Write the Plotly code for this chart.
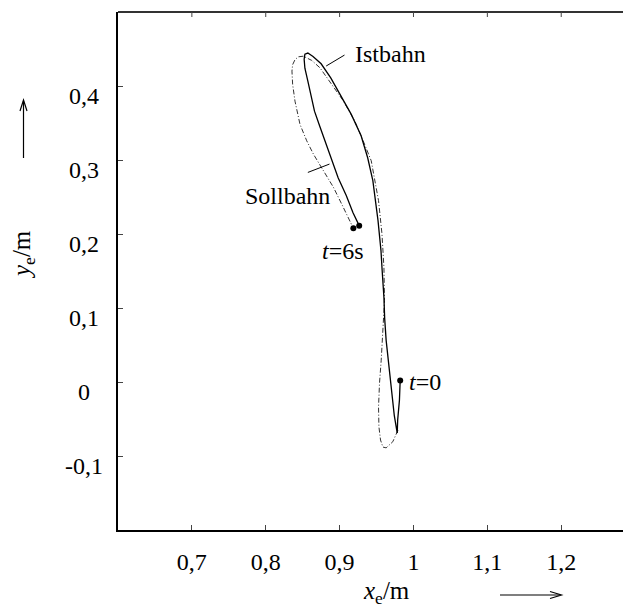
import plotly.graph_objects as go

# ---- data ----
ist_x = [0.982, 0.981, 0.9786, 0.978, 0.974, 0.9698, 0.966, 0.963, 0.961, 0.960, 0.9576, 0.956,
         0.952, 0.949, 0.945, 0.938, 0.929, 0.9156, 0.902, 0.888, 0.875, 0.864, 0.857, 0.853,
         0.852, 0.853, 0.857, 0.861, 0.866, 0.873, 0.880, 0.888, 0.898, 0.909, 0.918, 0.9265]
ist_y = [0.002, -0.0245, -0.0515, -0.069, -0.045, -0.007, 0.0294, 0.0563, 0.086, 0.1143, 0.1507, 0.1776,
         0.218, 0.245, 0.272, 0.303, 0.333, 0.362, 0.3865, 0.411, 0.430, 0.440, 0.4445, 0.443,
         0.436, 0.424, 0.4067, 0.3865, 0.366, 0.346, 0.326, 0.303, 0.276, 0.252, 0.229, 0.2113]

soll_x = [0.979, 0.972, 0.963, 0.9586, 0.9554, 0.9532, 0.9527, 0.954, 0.9563, 0.9586, 0.9608, 0.9600,
          0.9573, 0.9527, 0.9428, 0.9337, 0.9204, 0.905, 0.8959, 0.8824, 0.8733, 0.8622, 0.8508,
          0.844, 0.8396, 0.8364, 0.8355, 0.8364, 0.8396, 0.8464, 0.8555, 0.8645, 0.8781, 0.8917,
          0.905, 0.9186]
soll_y = [-0.065, -0.0807, -0.089, -0.0879, -0.0784, -0.0605, -0.0336, -0.0016, 0.0294, 0.0658, 0.1102, 0.1551,
          0.2005, 0.245, 0.299, 0.3214, 0.353, 0.380, 0.393, 0.4112, 0.4247, 0.4346, 0.4403,
          0.4394, 0.4356, 0.4288, 0.4202, 0.4023, 0.3795, 0.348, 0.3259, 0.308, 0.2854, 0.263,
          0.236, 0.2077]

x_ticks = [0.7, 0.8, 0.9, 1.0, 1.1, 1.2]
x_tick_labels = ["0,7", "0,8", "0,9", "1", "1,1", "1,2"]
y_ticks = [0.4, 0.3, 0.2, 0.1, 0.0, -0.1]
y_tick_labels = ["0,4", "0,3", "0,2", "0,1", "0", "-0,1"]

FONT = "Liberation Serif, Times New Roman, Times, DejaVu Serif, serif"
FS = 24

fig = go.Figure()
fig.add_trace(go.Scatter(x=soll_x, y=soll_y, mode="lines",
                         line=dict(color="#333333", width=1, dash="5px,2px,1px,2px"),
                         hoverinfo="skip"))
fig.add_trace(go.Scatter(x=ist_x, y=ist_y, mode="lines",
                         line=dict(color="black", width=1.3), hoverinfo="skip"))
# marker dots: start of Istbahn, ends of both
fig.add_trace(go.Scatter(x=[ist_x[0], ist_x[-1], soll_x[-1]],
                         y=[ist_y[0], ist_y[-1], soll_y[-1]],
                         mode="markers", marker=dict(color="black", size=6),
                         hoverinfo="skip"))

tf = dict(family=FONT, size=FS, color="black")
annotations = []
for v, t in zip(y_ticks, y_tick_labels):
    annotations.append(dict(x=0, xref="paper", y=v, yref="y", text=t, showarrow=False,
                            xanchor="center", yanchor="middle", xshift=-34, yshift=-10,
                            font=tf))

# curve labels
annotations += [
    dict(x=0.9180, y=0.443, text="Istbahn", xanchor="left", yanchor="middle", showarrow=False, font=tf),
    dict(x=0.8900, y=0.2518, text="Sollbahn", xanchor="right", yanchor="middle", showarrow=False, font=tf),
    dict(x=0.8740, y=0.1776, text="<i>t</i>=6s", xanchor="left", yanchor="middle", showarrow=False, font=tf),
    dict(x=0.9910, y=0.0001, text="<i>t</i>=0", xanchor="left", yanchor="middle", showarrow=False, font=tf),
    # axis titles
    dict(x=(386 - 118) / 505, xref="paper", y=(530 - 592) / 518, yref="paper",
         text="<i>x</i><sub>e</sub>/m", showarrow=False, xanchor="center", yanchor="middle",
         font=dict(family=FONT, size=25, color="black")),
    dict(x=(24 - 118) / 505, xref="paper", y=(530 - 255) / 518, yref="paper",
         text="<i>y</i><sub>e</sub>/m", showarrow=False, xanchor="center", yanchor="middle",
         textangle=-90, font=dict(family=FONT, size=25, color="black")),
]

def px(xp):
    return (xp - 118) / 505

def py(yp):
    return (530 - yp) / 518

shapes = [
    # leader lines
    dict(type="line", x0=0.8818, y0=0.427, x1=0.9066, y1=0.4418, xref="x", yref="y",
         line=dict(color="black", width=1)),
    dict(type="line", x0=0.857, y0=0.2832, x1=0.8863, y1=0.2945, xref="x", yref="y",
         line=dict(color="black", width=1)),
    # top frame line
    dict(type="line", xref="paper", yref="paper", x0=0, x1=1, y0=1, y1=1,
         line=dict(color="#333333", width=2)),
    # y arrow
    dict(type="path", xref="paper", yref="paper",
         path=f"M {px(23.5)} {py(158)} L {px(23.5)} {py(101)}", line=dict(color="black", width=1.2)),
    dict(type="path", xref="paper", yref="paper",
         path=f"M {px(20)} {py(111)} L {px(23.5)} {py(100)} L {px(27)} {py(111)}",
         line=dict(color="black", width=1.2)),
    # x arrow
    dict(type="path", xref="paper", yref="paper",
         path=f"M {px(500)} {py(595)} L {px(560)} {py(595)}", line=dict(color="black", width=1.2)),
    dict(type="path", xref="paper", yref="paper",
         path=f"M {px(550)} {py(591.5)} L {px(561.5)} {py(595)} L {px(550)} {py(598.5)}",
         line=dict(color="black", width=1.2)),
]

# inside ticks along the top edge (mirrored x ticks)
for v in x_ticks:
    shapes.append(dict(type="line", xref="x", yref="paper", x0=v, x1=v, y0=1, y1=1 - 5 / 518,
                       line=dict(color="#444444", width=1)))

fig.update_layout(
    width=623, height=611,
    margin=dict(l=118, r=0, t=12, b=81, autoexpand=False),
    paper_bgcolor="white", plot_bgcolor="white",
    showlegend=False,
    annotations=annotations,
    shapes=shapes,
    xaxis=dict(range=[0.6, 0.6 + 505 / 738.7], tickvals=x_ticks, ticktext=x_tick_labels,
               ticks="inside", ticklen=5, tickwidth=1, tickcolor="#444444",
               showline=True, linecolor="black", linewidth=2, mirror=False,
               showgrid=False, zeroline=False, ticklabelstandoff=9, automargin=False,
               tickfont=tf),
    yaxis=dict(range=[-0.2, 0.5], tickvals=y_ticks, showticklabels=False,
               ticks="inside", ticklen=5, tickwidth=1, tickcolor="#444444",
               showline=True, linecolor="black", linewidth=2, mirror=False,
               showgrid=False, zeroline=False, automargin=False),
)

fig.write_html("out.html", config={"displayModeBar": False},
               post_script="document.body.style.margin='0';document.body.style.overflow='hidden';")
